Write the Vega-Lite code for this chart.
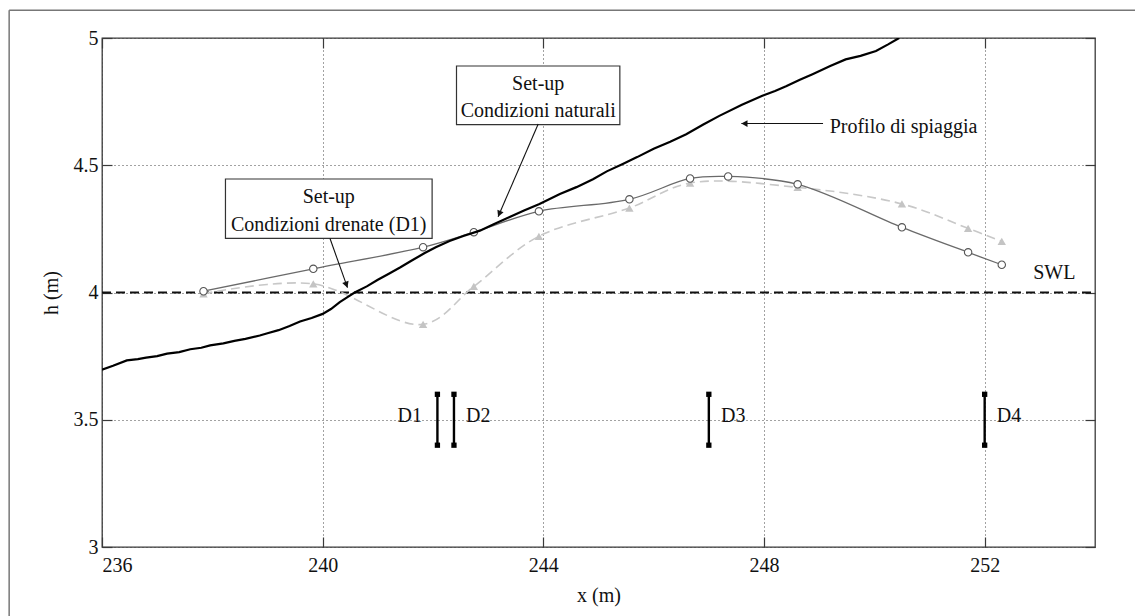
{
  "$schema": "https://vega.github.io/schema/vega-lite/v6.json",
  "width": 993,
  "height": 509,
  "autosize": {"type": "none"},
  "padding": {"left": 102, "top": 38, "right": 40, "bottom": 69},
  "background": "white",
  "config": {
    "font": "Liberation Serif",
    "view": {"stroke": "#3a3a3a", "strokeWidth": 1.3},
    "axis": {
      "labelFont": "Liberation Serif",
      "labelFontSize": 20,
      "labelColor": "#111",
      "titleFont": "Liberation Serif",
      "titleFontSize": 20,
      "titleFontWeight": "normal",
      "titleColor": "#111",
      "domain": false,
      "tickColor": "#3a3a3a",
      "tickWidth": 1.2,
      "gridColor": "#444",
      "gridDash": [1, 3],
      "gridWidth": 1,
      "gridOpacity": 1
    }
  },
  "datasets": {
    "profile": [
      {"x": 236.0, "h": 3.697}, {"x": 236.2, "h": 3.712}, {"x": 236.45, "h": 3.733}, {"x": 236.65, "h": 3.738},
      {"x": 236.8, "h": 3.744}, {"x": 237.0, "h": 3.75}, {"x": 237.18, "h": 3.76}, {"x": 237.4, "h": 3.766},
      {"x": 237.6, "h": 3.777}, {"x": 237.8, "h": 3.783}, {"x": 237.96, "h": 3.792}, {"x": 238.2, "h": 3.8},
      {"x": 238.4, "h": 3.81}, {"x": 238.6, "h": 3.818}, {"x": 238.86, "h": 3.831}, {"x": 239.0, "h": 3.84},
      {"x": 239.2, "h": 3.852}, {"x": 239.4, "h": 3.868}, {"x": 239.59, "h": 3.886}, {"x": 239.8, "h": 3.9},
      {"x": 240.0, "h": 3.916}, {"x": 240.15, "h": 3.935}, {"x": 240.31, "h": 3.962}, {"x": 240.45, "h": 3.982},
      {"x": 240.58, "h": 4.0}, {"x": 240.8, "h": 4.024}, {"x": 241.0, "h": 4.05}, {"x": 241.2, "h": 4.074},
      {"x": 241.41, "h": 4.099}, {"x": 241.6, "h": 4.124}, {"x": 241.85, "h": 4.155}, {"x": 242.05, "h": 4.178},
      {"x": 242.3, "h": 4.202}, {"x": 242.55, "h": 4.222}, {"x": 242.85, "h": 4.243}, {"x": 243.1, "h": 4.268},
      {"x": 243.4, "h": 4.298}, {"x": 243.65, "h": 4.322}, {"x": 243.93, "h": 4.348}, {"x": 244.3, "h": 4.387},
      {"x": 244.6, "h": 4.414}, {"x": 244.9, "h": 4.445}, {"x": 245.15, "h": 4.476}, {"x": 245.44, "h": 4.505},
      {"x": 245.7, "h": 4.532}, {"x": 246.0, "h": 4.565}, {"x": 246.3, "h": 4.592}, {"x": 246.59, "h": 4.622},
      {"x": 246.9, "h": 4.66}, {"x": 247.19, "h": 4.694}, {"x": 247.6, "h": 4.738}, {"x": 247.97, "h": 4.773},
      {"x": 248.2, "h": 4.792}, {"x": 248.4, "h": 4.81}, {"x": 248.65, "h": 4.836}, {"x": 248.88, "h": 4.858},
      {"x": 249.2, "h": 4.89}, {"x": 249.48, "h": 4.916}, {"x": 249.75, "h": 4.93}, {"x": 250.03, "h": 4.949},
      {"x": 250.25, "h": 4.975}, {"x": 250.45, "h": 5.0}
    ],
    "natural": [
      {"x": 237.84, "h": 4.005}, {"x": 239.83, "h": 4.093}, {"x": 241.82, "h": 4.178}, {"x": 242.74, "h": 4.237},
      {"x": 243.92, "h": 4.319}, {"x": 245.56, "h": 4.366}, {"x": 246.66, "h": 4.448}, {"x": 247.35, "h": 4.456},
      {"x": 248.61, "h": 4.425}, {"x": 250.5, "h": 4.256}, {"x": 251.7, "h": 4.158}, {"x": 252.31, "h": 4.109}
    ],
    "drained": [
      {"x": 237.84, "h": 3.995}, {"x": 239.83, "h": 4.034}, {"x": 241.82, "h": 3.875}, {"x": 242.74, "h": 4.024},
      {"x": 243.92, "h": 4.221}, {"x": 245.56, "h": 4.332}, {"x": 246.66, "h": 4.43}, {"x": 248.61, "h": 4.413},
      {"x": 250.5, "h": 4.348}, {"x": 251.7, "h": 4.252}, {"x": 252.31, "h": 4.201}
    ],
    "swl": [{"x": 236, "x2": 254, "h": 4}],
    "sensors": [
      {"name": "D1", "x": 242.08, "lo": 3.4, "hi": 3.6, "tx": 241.8, "th": 3.515},
      {"name": "D2", "x": 242.38, "lo": 3.4, "hi": 3.6, "tx": 242.6, "th": 3.515},
      {"name": "D3", "x": 247.0, "lo": 3.4, "hi": 3.6, "tx": 247.22, "th": 3.515},
      {"name": "D4", "x": 252.0, "lo": 3.4, "hi": 3.6, "tx": 252.22, "th": 3.515}
    ],
    "boxes": [
      {"x": 242.426, "x2": 245.387, "h": 4.89, "h2": 4.66},
      {"x": 238.238, "x2": 241.984, "h": 4.446, "h2": 4.213}
    ],
    "centerText": [
      {"text": "Set-up", "x": 243.907, "h": 4.821},
      {"text": "Condizioni naturali", "x": 243.907, "h": 4.714},
      {"text": "Set-up", "x": 240.11, "h": 4.374},
      {"text": "Condizioni drenate (D1)", "x": 240.11, "h": 4.266}
    ],
    "leftText": [
      {"text": "Profilo di spiaggia", "x": 249.19, "h": 4.651},
      {"text": "SWL", "x": 252.88, "h": 4.077}
    ],
    "arrows": [
      {"id": "a1", "x": 240.133, "h": 4.212, "x2": 240.45, "h2": 4.019},
      {"id": "a2", "x": 243.907, "h": 4.662, "x2": 243.18, "h2": 4.298},
      {"id": "a3", "x": 249.07, "h": 4.664, "x2": 247.59, "h2": 4.664}
    ],
    "frame": [
      {"x": 234.317, "x2": 234.317, "h": 5.109, "h2": 2.7},
      {"x": 234.317, "x2": 255.0, "h": 5.109, "h2": 5.109}
    ]
  },
  "resolve": {"axis": {"x": "independent", "y": "independent"}},
  "layer": [
    {
      "data": {"name": "swl"},
      "mark": {"type": "rule", "color": "#111", "strokeWidth": 2, "strokeDash": [9, 5]},
      "encoding": {
        "x": {"field": "x", "type": "quantitative",
              "scale": {"domain": [236, 254], "nice": false, "zero": false},
              "axis": {"orient": "bottom", "values": [236, 240, 244, 248, 252], "title": "x (m)",
                       "grid": true, "tickSize": -10, "labelPadding": 18, "titlePadding": 10}},
        "x2": {"field": "x2"},
        "y": {"field": "h", "type": "quantitative",
              "scale": {"domain": [3, 5], "nice": false, "zero": false},
              "axis": {"orient": "left", "values": [3, 3.5, 4, 4.5, 5], "format": "~g", "title": "h (m)",
                       "grid": true, "tickSize": -10, "labelPadding": 14, "titlePadding": 12}}
      }
    },
    {
      "data": {"name": "swl"},
      "mark": {"type": "rule", "opacity": 0},
      "encoding": {
        "x": {"field": "x", "type": "quantitative",
              "axis": {"orient": "top", "values": [236, 240, 244, 248, 252], "labels": false, "title": null,
                       "grid": false, "tickSize": -10}},
        "y": {"field": "h", "type": "quantitative",
              "axis": {"orient": "right", "values": [3, 3.5, 4, 4.5, 5], "labels": false, "title": null,
                       "grid": false, "tickSize": -10}}
      }
    },
    {
      "data": {"name": "frame"},
      "mark": {"type": "rule", "color": "#777", "strokeWidth": 1.5, "clip": false},
      "encoding": {
        "x": {"field": "x", "type": "quantitative", "axis": null},
        "x2": {"field": "x2"},
        "y": {"field": "h", "type": "quantitative", "axis": null},
        "y2": {"field": "h2"}
      }
    },
    {
      "data": {"name": "drained"},
      "mark": {"type": "line", "color": "#c8c8c8", "strokeWidth": 1.6, "strokeDash": [9, 5], "interpolate": "catmull-rom"},
      "encoding": {
        "x": {"field": "x", "type": "quantitative", "axis": null},
        "y": {"field": "h", "type": "quantitative", "axis": null}
      }
    },
    {
      "data": {"name": "drained"},
      "mark": {"type": "point", "shape": "triangle-up", "filled": true, "color": "#c4c4c4", "size": 70, "opacity": 1},
      "encoding": {
        "x": {"field": "x", "type": "quantitative", "axis": null},
        "y": {"field": "h", "type": "quantitative", "axis": null}
      }
    },
    {
      "data": {"name": "natural"},
      "mark": {"type": "line", "color": "#6a6a6a", "strokeWidth": 1.3, "interpolate": "catmull-rom"},
      "encoding": {
        "x": {"field": "x", "type": "quantitative", "axis": null},
        "y": {"field": "h", "type": "quantitative", "axis": null}
      }
    },
    {
      "data": {"name": "natural"},
      "mark": {"type": "point", "shape": "circle", "filled": false, "fill": "white", "fillOpacity": 1, "stroke": "#555", "strokeWidth": 1.1, "size": 55, "opacity": 1},
      "encoding": {
        "x": {"field": "x", "type": "quantitative", "axis": null},
        "y": {"field": "h", "type": "quantitative", "axis": null}
      }
    },
    {
      "data": {"name": "profile"},
      "mark": {"type": "line", "color": "#000", "strokeWidth": 2.2, "clip": true},
      "encoding": {
        "x": {"field": "x", "type": "quantitative", "axis": null},
        "y": {"field": "h", "type": "quantitative", "axis": null}
      }
    },
    {
      "data": {"name": "sensors"},
      "mark": {"type": "rule", "color": "#000", "strokeWidth": 2.4},
      "encoding": {
        "x": {"field": "x", "type": "quantitative", "axis": null},
        "y": {"field": "lo", "type": "quantitative", "axis": null},
        "y2": {"field": "hi"}
      }
    },
    {
      "data": {"name": "sensors"},
      "mark": {"type": "point", "shape": "square", "filled": true, "color": "#000", "size": 28, "opacity": 1},
      "encoding": {
        "x": {"field": "x", "type": "quantitative", "axis": null},
        "y": {"field": "lo", "type": "quantitative", "axis": null}
      }
    },
    {
      "data": {"name": "sensors"},
      "mark": {"type": "point", "shape": "square", "filled": true, "color": "#000", "size": 28, "opacity": 1},
      "encoding": {
        "x": {"field": "x", "type": "quantitative", "axis": null},
        "y": {"field": "hi", "type": "quantitative", "axis": null}
      }
    },
    {
      "data": {"name": "sensors"},
      "transform": [{"filter": "datum.name === 'D1'"}],
      "mark": {"type": "text", "font": "Liberation Serif", "fontSize": 20, "color": "#111", "align": "right", "baseline": "middle"},
      "encoding": {
        "x": {"field": "tx", "type": "quantitative", "axis": null},
        "y": {"field": "th", "type": "quantitative", "axis": null},
        "text": {"field": "name"}
      }
    },
    {
      "data": {"name": "sensors"},
      "transform": [{"filter": "datum.name !== 'D1'"}],
      "mark": {"type": "text", "font": "Liberation Serif", "fontSize": 20, "color": "#111", "align": "left", "baseline": "middle"},
      "encoding": {
        "x": {"field": "tx", "type": "quantitative", "axis": null},
        "y": {"field": "th", "type": "quantitative", "axis": null},
        "text": {"field": "name"}
      }
    },
    {
      "data": {"name": "boxes"},
      "mark": {"type": "rect", "fill": "white", "stroke": "#333", "strokeWidth": 1.2},
      "encoding": {
        "x": {"field": "x", "type": "quantitative", "axis": null},
        "x2": {"field": "x2"},
        "y": {"field": "h", "type": "quantitative", "axis": null},
        "y2": {"field": "h2"}
      }
    },
    {
      "data": {"name": "centerText"},
      "mark": {"type": "text", "font": "Liberation Serif", "fontSize": 20, "color": "#111", "align": "center", "baseline": "middle"},
      "encoding": {
        "x": {"field": "x", "type": "quantitative", "axis": null},
        "y": {"field": "h", "type": "quantitative", "axis": null},
        "text": {"field": "text"}
      }
    },
    {
      "data": {"name": "leftText"},
      "mark": {"type": "text", "font": "Liberation Serif", "fontSize": 20, "color": "#111", "align": "left", "baseline": "middle"},
      "encoding": {
        "x": {"field": "x", "type": "quantitative", "axis": null},
        "y": {"field": "h", "type": "quantitative", "axis": null},
        "text": {"field": "text"}
      }
    },
    {
      "data": {"name": "arrows"},
      "mark": {"type": "rule", "color": "#111", "strokeWidth": 1.1},
      "encoding": {
        "x": {"field": "x", "type": "quantitative", "axis": null},
        "x2": {"field": "x2"},
        "y": {"field": "h", "type": "quantitative", "axis": null},
        "y2": {"field": "h2"}
      }
    },
    {
      "data": {"name": "arrows"},
      "transform": [{"filter": "datum.id === 'a1'"}],
      "mark": {"type": "point", "shape": "M-1,-0.55L0,0L-1,0.55Z", "filled": true, "color": "#111", "size": 150, "opacity": 1, "angle": 70},
      "encoding": {
        "x": {"field": "x2", "type": "quantitative", "axis": null},
        "y": {"field": "h2", "type": "quantitative", "axis": null}
      }
    },
    {
      "data": {"name": "arrows"},
      "transform": [{"filter": "datum.id === 'a2'"}],
      "mark": {"type": "point", "shape": "M-1,-0.55L0,0L-1,0.55Z", "filled": true, "color": "#111", "size": 150, "opacity": 1, "angle": 113},
      "encoding": {
        "x": {"field": "x2", "type": "quantitative", "axis": null},
        "y": {"field": "h2", "type": "quantitative", "axis": null}
      }
    },
    {
      "data": {"name": "arrows"},
      "transform": [{"filter": "datum.id === 'a3'"}],
      "mark": {"type": "point", "shape": "M-1,-0.55L0,0L-1,0.55Z", "filled": true, "color": "#111", "size": 150, "opacity": 1, "angle": 180},
      "encoding": {
        "x": {"field": "x2", "type": "quantitative", "axis": null},
        "y": {"field": "h2", "type": "quantitative", "axis": null}
      }
    }
  ]
}
